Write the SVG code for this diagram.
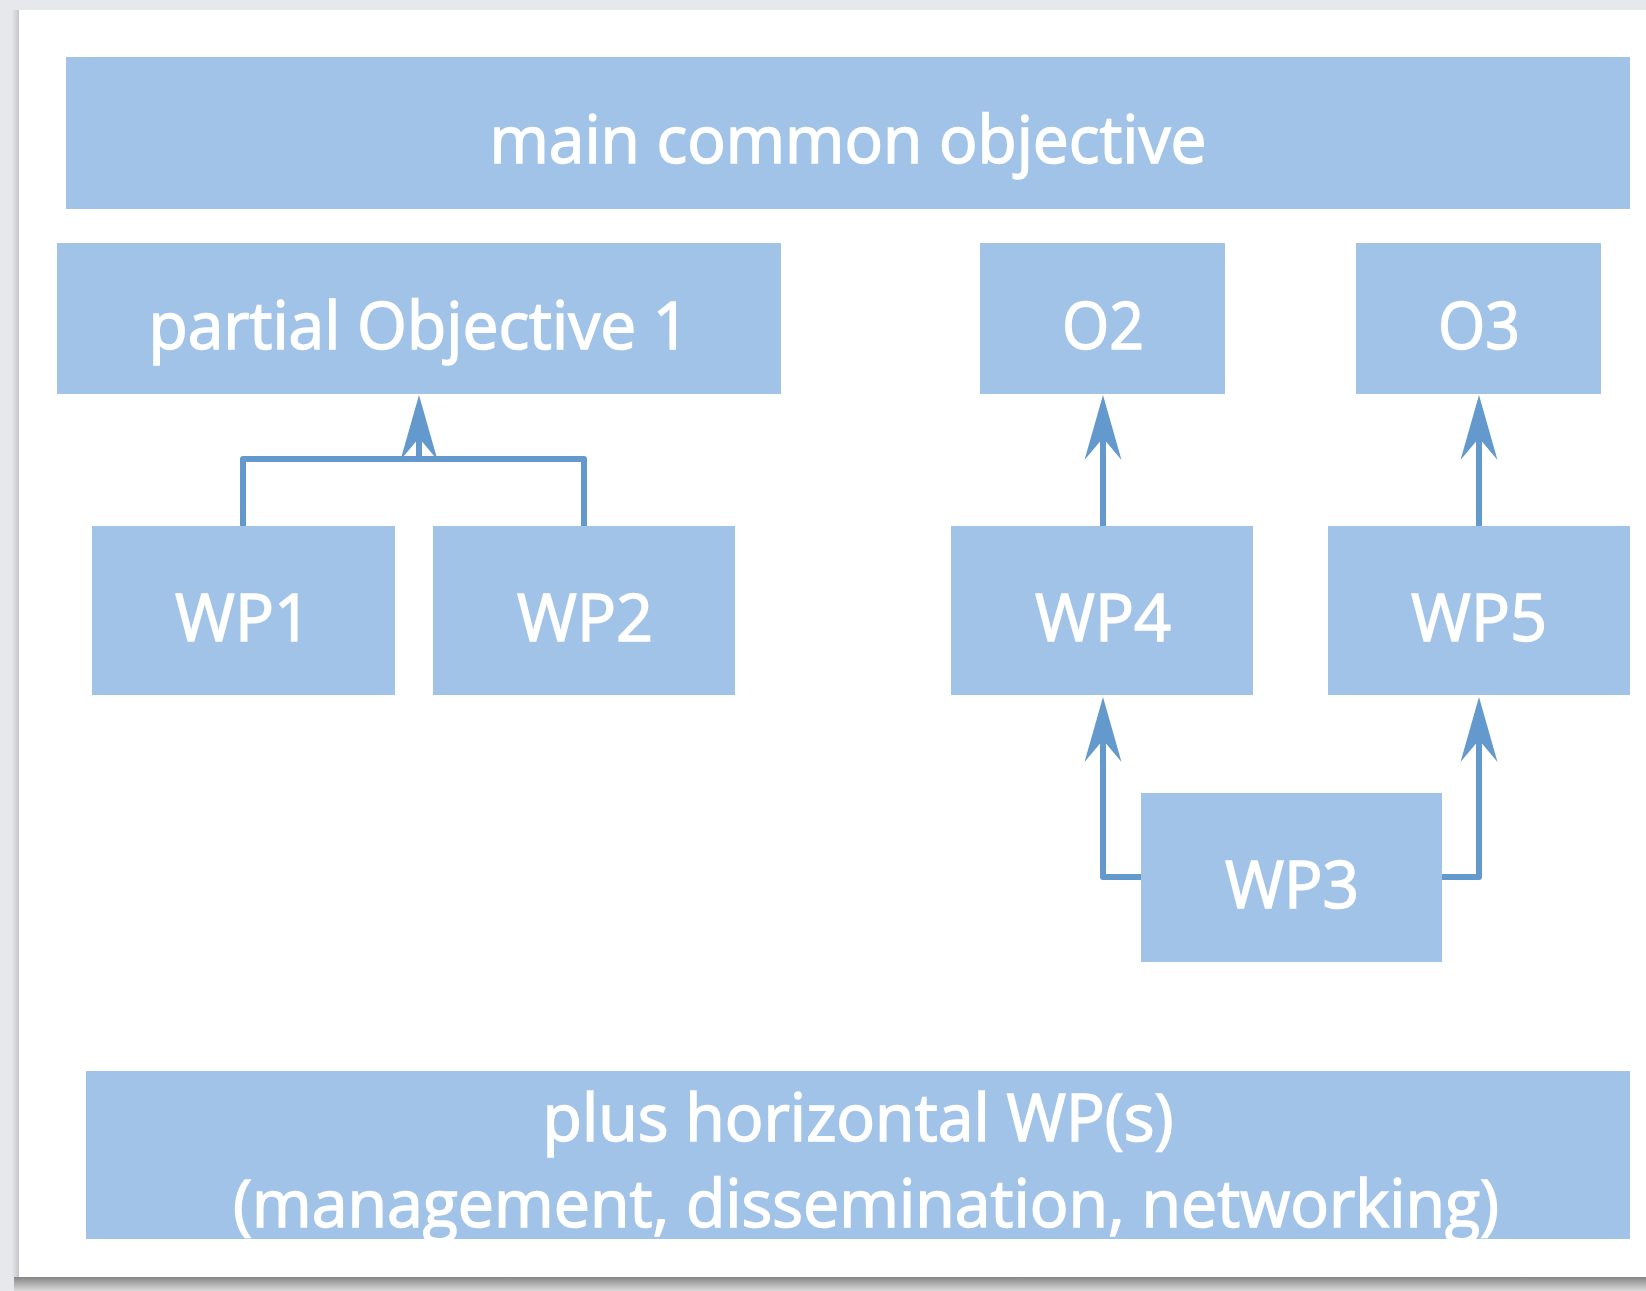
<svg xmlns="http://www.w3.org/2000/svg" width="1646" height="1291" viewBox="0 0 1646 1291">
<style>
.box{fill:#a1c3e8;}
.lbl{fill:#ffffff;stroke:#ffffff;stroke-width:1.5;font-family:"Open Sans","Noto Sans","Liberation Sans",sans-serif;font-size:66px;text-anchor:middle;}
.conn{fill:none;stroke:#6399cc;stroke-width:6;stroke-linejoin:round;}
.arr{marker-end:url(#stealth);}
</style>
<defs>
<marker id="stealth" viewBox="-70 -20 72 40" markerWidth="72" markerHeight="40" refX="-43" refY="0" orient="auto" markerUnits="userSpaceOnUse">
<path d="M0,0 L-65,-18.5 L-43,0 L-65,18.5 Z" fill="#6399cc"/>
</marker>
<linearGradient id="bshadow" x1="0" y1="0" x2="0" y2="1">
<stop offset="0" stop-color="#858585"/>
<stop offset="0.5" stop-color="#b0b0b0"/>
<stop offset="1" stop-color="#dadada"/>
</linearGradient>
<linearGradient id="lshadow" x1="0" y1="0" x2="1" y2="0">
<stop offset="0" stop-color="#e4e6ea"/>
<stop offset="1" stop-color="#c4c6c9"/>
</linearGradient>
</defs>
<rect x="0" y="0" width="1646" height="1291" fill="#e6e8eb"/>
<rect x="12" y="10" width="7" height="1267" fill="url(#lshadow)"/>
<rect x="14" y="1277" width="1632" height="14" fill="url(#bshadow)"/>
<rect x="19" y="10" width="1627" height="1267" fill="#ffffff"/>

<g id="connectors">
<path class="conn" d="M243,526 V459 H584 V526"/>
<path class="conn arr" d="M419,459 V438"/>
<path class="conn arr" d="M1103,526 V438"/>
<path class="conn arr" d="M1479,526 V438"/>
<path class="conn arr" d="M1141,877 H1103 V740"/>
<path class="conn arr" d="M1442,877 H1479 V740"/>
</g>

<g id="main">
<rect class="box" x="66" y="57" width="1564" height="152"/>
<text class="lbl" x="848" y="163" textLength="717" lengthAdjust="spacingAndGlyphs">main common objective</text>
</g>
<g id="po1">
<rect class="box" x="57" y="243" width="724" height="151"/>
<text class="lbl" x="419" y="349" textLength="541" lengthAdjust="spacingAndGlyphs">partial Objective 1</text>
</g>
<g id="o2">
<rect class="box" x="980" y="243" width="245" height="151"/>
<text class="lbl" x="1103" y="349" textLength="82" lengthAdjust="spacingAndGlyphs">O2</text>
</g>
<g id="o3">
<rect class="box" x="1356" y="243" width="245" height="151"/>
<text class="lbl" x="1479" y="349" textLength="82" lengthAdjust="spacingAndGlyphs">O3</text>
</g>
<g id="wp1">
<rect class="box" x="92" y="526" width="303" height="169"/>
<text class="lbl" x="243" y="641" textLength="136" lengthAdjust="spacingAndGlyphs">WP1</text>
</g>
<g id="wp2">
<rect class="box" x="433" y="526" width="302" height="169"/>
<text class="lbl" x="585" y="641" textLength="136" lengthAdjust="spacingAndGlyphs">WP2</text>
</g>
<g id="wp4">
<rect class="box" x="951" y="526" width="302" height="169"/>
<text class="lbl" x="1103" y="641" textLength="136" lengthAdjust="spacingAndGlyphs">WP4</text>
</g>
<g id="wp5">
<rect class="box" x="1328" y="526" width="302" height="169"/>
<text class="lbl" x="1479" y="641" textLength="136" lengthAdjust="spacingAndGlyphs">WP5</text>
</g>
<g id="wp3">
<rect class="box" x="1141" y="793" width="301" height="169"/>
<text class="lbl" x="1292" y="908" textLength="134" lengthAdjust="spacingAndGlyphs">WP3</text>
</g>
<g id="horizontal">
<rect class="box" x="86" y="1071" width="1544" height="168"/>
<text class="lbl" x="858" y="1141" textLength="631" lengthAdjust="spacingAndGlyphs">plus horizontal WP(s)</text>
<text class="lbl" x="866" y="1227" textLength="1266" lengthAdjust="spacingAndGlyphs">(management, dissemination, networking)</text>
</g>
</svg>
